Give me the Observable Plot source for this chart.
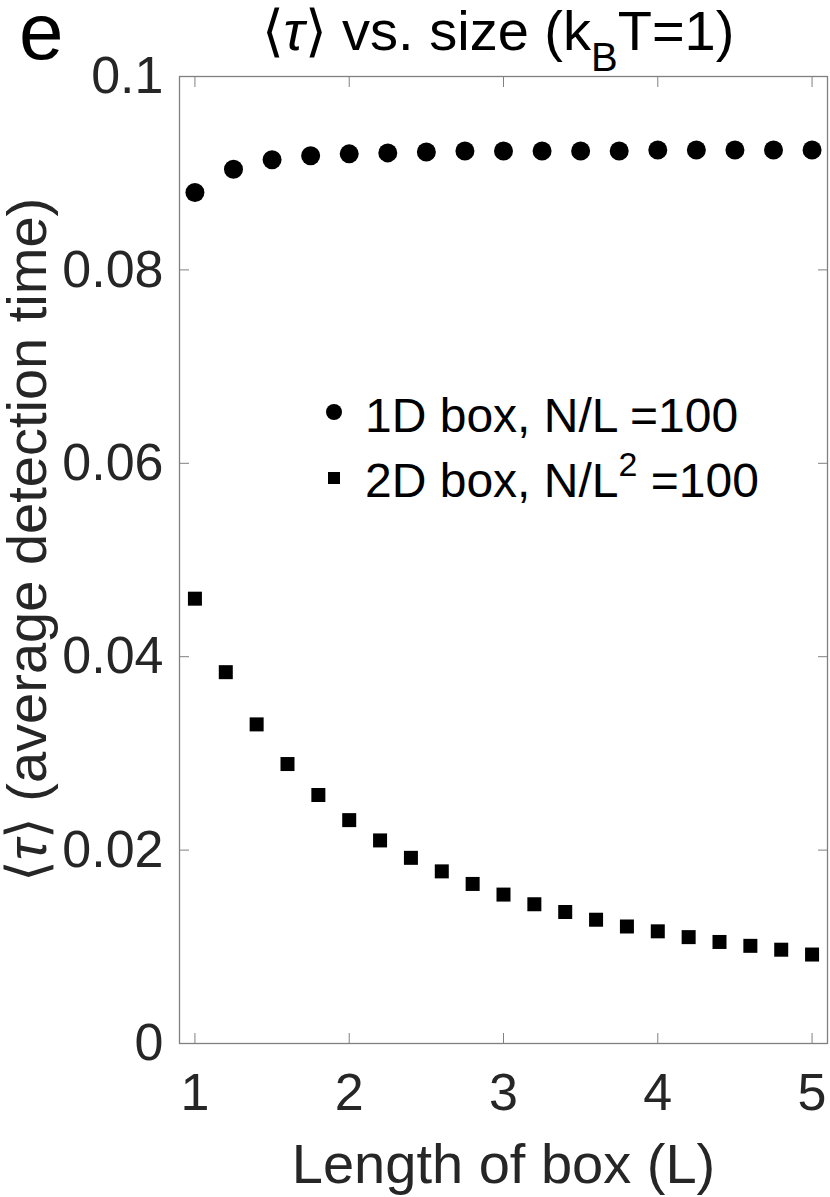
<!DOCTYPE html>
<html>
<head>
<meta charset="utf-8">
<script src="https://cdn.jsdelivr.net/npm/d3@7"></script>
<script src="https://cdn.jsdelivr.net/npm/@observablehq/plot@0.6"></script>
<style>
  body { margin: 0; background: #fff; }
  #wrap { position: relative; width: 830px; height: 1197px; font-family: "Liberation Sans", Arial, sans-serif; }
  .abs { position: absolute; white-space: nowrap; line-height: 1; }
  #wrap svg { display: block; }
</style>
</head>
<body>
<div id="wrap"></div>
<script>
// ---- data ----
const L1 = [1, 1.25, 1.5, 1.75, 2, 2.25, 2.5, 2.75, 3, 3.25, 3.5, 3.75, 4, 4.25, 4.5, 4.75, 5];
const tau1D = [0.0880, 0.0904, 0.0914, 0.0918, 0.0920, 0.0921, 0.0922, 0.0923, 0.0923, 0.0923,
               0.0923, 0.0923, 0.0924, 0.0924, 0.0924, 0.0924, 0.0924];
const L2 = [1, 1.2, 1.4, 1.6, 1.8, 2, 2.2, 2.4, 2.6, 2.8, 3, 3.2, 3.4, 3.6, 3.8, 4, 4.2, 4.4, 4.6, 4.8, 5];
const tau2D = [0.0460, 0.0384, 0.0330, 0.0289, 0.0257, 0.0231, 0.0210, 0.0192, 0.0178, 0.0165,
               0.0154, 0.0144, 0.0136, 0.0128, 0.0121, 0.0116, 0.0110, 0.0105, 0.0101, 0.0097, 0.0092];
const xTicks = [1, 2, 3, 4, 5];
const xTickLabels = ["1", "2", "3", "4", "5"];
const yTicks = [0, 0.02, 0.04, 0.06, 0.08, 0.1];
const yTickLabels = ["0", "0.02", "0.04", "0.06", "0.08", "0.1"];
const xLabel = "Length of box (L)";
const panelLetter = "e";

const data1D = L1.map((x, i) => ({L: x, tau: tau1D[i]}));
const data2D = L2.map((x, i) => ({L: x, tau: tau2D[i]}));

const axisGray = "#808080";
const textDark = "#262626";
const font = "Liberation Sans, Arial, sans-serif";

const chart = Plot.plot({
  width: 830,
  height: 1197,
  marginTop: 76,
  marginBottom: 154,
  marginLeft: 179,
  marginRight: 3,
  style: {fontFamily: font, background: "transparent", color: textDark, overflow: "visible"},
  x: {domain: [0.9, 5.1]},
  y: {domain: [0, 0.1]},
  marks: [
    Plot.frame({stroke: axisGray, strokeWidth: 1.3}),
    Plot.axisX({anchor: "bottom", ticks: xTicks, tickFormat: d => xTickLabels[xTicks.indexOf(d)],
      tickSize: -10, tickPadding: 40, fontSize: 52, label: null, stroke: axisGray, fill: textDark}),
    Plot.axisX({anchor: "top", ticks: xTicks, tickFormat: () => null,
      tickSize: -10, label: null, stroke: axisGray}),
    Plot.axisY({anchor: "left", ticks: yTicks, tickFormat: d => yTickLabels[yTicks.indexOf(d)],
      tickSize: -10, tickPadding: 26, fontSize: 52, label: null, stroke: axisGray, fill: textDark}),
    Plot.axisY({anchor: "right", ticks: yTicks, tickFormat: () => null,
      tickSize: -10, label: null, stroke: axisGray}),
    Plot.dot(data1D, {x: "L", y: "tau", r: 9.5, fill: "black", symbol: "circle"}),
    Plot.dot(data2D, {x: "L", y: "tau", r: 7.9, fill: "black", symbol: "square"}),
    Plot.text([xLabel], {frameAnchor: "bottom", lineAnchor: "bottom", dy: 139, fontSize: 56, fill: textDark})
  ]
});

const wrap = document.getElementById("wrap");
wrap.appendChild(chart);

function addAbs(html, style) {
  const d = document.createElement("div");
  d.className = "abs";
  d.innerHTML = html;
  Object.assign(d.style, style);
  wrap.appendChild(d);
  return d;
}

// panel letter
addAbs(panelLetter, {left: "19px", top: "2px", fontSize: "80px", lineHeight: "60px", color: "#000"});

// title
addAbs('\u27E8<i>\u03C4</i>\u27E9 vs. size (k<span style="font-size:40px;position:relative;top:21px">B</span>T=1)',
  {left: "498px", top: "3px", fontSize: "56px", color: "#000", transform: "translateX(-50%)"});

// y label
addAbs('\u27E8<i>\u03C4</i>\u27E9 (average detection time)',
  {left: "27px", top: "540px", fontSize: "56px", lineHeight: "44px", color: textDark,
   transform: "translate(-50%,-50%) rotate(-90deg)"});

// legend
addAbs('', {left: "326px", top: "404px", width: "16px", height: "16px", borderRadius: "50%", background: "#000"});
addAbs('', {left: "328px", top: "472px", width: "12px", height: "12px", background: "#000"});
addAbs('1D box, N/L =100', {left: "365px", top: "392px", fontSize: "48px", color: "#000"});
addAbs('2D box, N/L<span style="font-size:34px;position:relative;top:-21px">2</span> =100',
  {left: "365px", top: "457px", fontSize: "48px", color: "#000"});
</script>
</body>
</html>
